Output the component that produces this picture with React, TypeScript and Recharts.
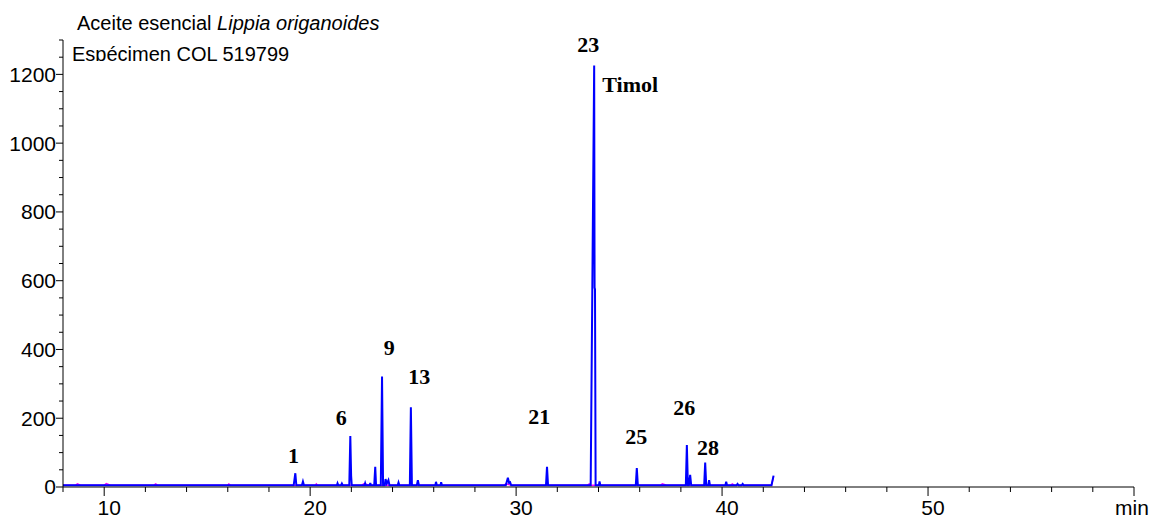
/** Chromatogram — Lippia origanoides essential oil, specimen COL 519799 */
import { ComposedChart, Line, Scatter, XAxis, YAxis } from 'recharts'

// retention time (min) / signal pairs
const blueTrace: [number, number][] = [
  [8.0, 5], [19.2, 5], [19.28, 40], [19.33, 5],
  [19.6, 5], [19.65, 16], [19.7, 5],
  [21.3, 5], [21.33, 11], [21.37, 5],
  [21.5, 5], [21.54, 10], [21.58, 5],
  [21.9, 5], [21.95, 148], [21.99, 32], [22.02, 5],
  [22.64, 5], [22.67, 11], [22.7, 5],
  [22.89, 5], [22.92, 12], [22.95, 5],
  [23.11, 5], [23.16, 59], [23.2, 5],
  [23.43, 5], [23.49, 321], [23.54, 5],
  [23.62, 5], [23.66, 23], [23.72, 10], [23.8, 20], [23.85, 5],
  [24.25, 5], [24.29, 13], [24.33, 5],
  [24.84, 5], [24.89, 232], [24.94, 5],
  [25.18, 5], [25.23, 20], [25.28, 5],
  [26.08, 5], [26.11, 15], [26.15, 5],
  [26.33, 5], [26.36, 14], [26.4, 5],
  [29.5, 5], [29.6, 27], [29.66, 12], [29.71, 14], [29.76, 5],
  [31.45, 5], [31.5, 59], [31.55, 5],
  [33.62, 5], [33.79, 1226], [33.81, 580], [33.83, 575], [33.86, 5],
  [34.02, 5], [34.05, 16], [34.09, 5],
  [35.81, 5], [35.86, 55], [35.91, 5],
  [38.24, 5], [38.29, 122], [38.34, 5],
  [38.39, 5], [38.45, 35], [38.5, 5],
  [39.13, 5], [39.18, 71], [39.23, 5],
  [39.33, 5], [39.37, 20], [39.41, 5],
  [40.16, 5], [40.2, 15], [40.24, 5],
  [40.7, 5], [40.75, 9], [40.8, 5],
  [40.95, 5], [41.0, 9], [41.05, 5],
  [42.4, 5], [42.5, 33],
]

const magentaTrace: [number, number][] = [
  [8.0, 5], [8.6, 5], [8.7, 9], [8.85, 5],
  [10.0, 5], [10.1, 10], [10.3, 5],
  [12.4, 5], [12.5, 9], [12.6, 5],
  [16.0, 5], [16.05, 9], [16.15, 5],
  [20.25, 5], [20.3, 9], [20.35, 5],
  [22.5, 5], [22.6, 9], [22.9, 5],
  [29.4, 5], [29.5, 9], [29.8, 5],
  [33.45, 5], [33.55, 9], [33.65, 5],
  [37.0, 5], [37.1, 9], [37.3, 5],
  [40.4, 5], [40.5, 9], [40.6, 5],
  [42.4, 5], [42.5, 30],
]

// peak numbers as printed on the chart: [label, time, signal level]
const peakLabels: [string, number, number][] = [
  ['1', 19.19, 93],
  ['6', 21.51, 201],
  ['9', 23.84, 405],
  ['13', 25.3, 320],
  ['21', 31.12, 204],
  ['23', 33.5, 1287],
  ['Timol', 35.54, 1171],
  ['25', 35.83, 146],
  ['26', 38.16, 230],
  ['28', 39.32, 114],
]

const xTicks = [8, 10, 12, 14, 16, 18, 20, 22, 24, 26, 28, 30, 32, 34, 36, 38, 40, 42, 44, 46, 48, 50, 52, 54, 56, 58, 60]
const yTicks = [0, 50, 100, 150, 200, 250, 300, 350, 400, 450, 500, 550, 600, 650, 700, 750, 800, 850, 900, 950, 1000, 1050, 1100, 1150, 1200, 1250, 1300]

const blueData = blueTrace.map(([t, v]) => ({ t, v }))
const magentaData = magentaTrace.map(([t, v]) => ({ t, v }))
const labelData = peakLabels.map(([name, t, v]) => ({ name, t, v }))

const SANS = '"Liberation Sans", Arial, sans-serif'
const SERIF = '"Liberation Serif", "Times New Roman", serif'

// eslint-disable-next-line @typescript-eslint/no-explicit-any
function XTick({ x, y, payload }: any) {
  const value = payload.value as number
  const major = value % 10 === 0
  const text = value === 60 ? 'min' : String(value)
  return (
    <g>
      <line x1={x} x2={x} y1={y} y2={y + (major ? 9 : 5)} stroke="#000" />
      {major && (
        <text x={value === 60 ? x - 2 : x + 5} y={y + 28} textAnchor="middle" fontSize={21} fontFamily={SANS} fill="#000">
          {text}
        </text>
      )}
    </g>
  )
}

// eslint-disable-next-line @typescript-eslint/no-explicit-any
function YTick({ x, y, payload }: any) {
  const value = payload.value as number
  const major = value % 200 === 0
  return (
    <g>
      <line x1={x - (major ? 7 : 4)} x2={x} y1={y} y2={y} stroke="#000" />
      {major && (
        <text x={x - 7} y={y} dy="0.35em" textAnchor="end" fontSize={21} fontFamily={SANS} fill="#000">
          {value}
        </text>
      )}
    </g>
  )
}

// eslint-disable-next-line @typescript-eslint/no-explicit-any
function PeakLabel({ cx, cy, payload }: any) {
  return (
    <text x={cx} y={cy} dy="0.34em" textAnchor="middle" fontSize={22} fontWeight={700} fontFamily={SERIF} fill="#000">
      {payload.name}
    </text>
  )
}

export default function App() {
  return (
    <div style={{ position: 'absolute', left: 0, top: 0, width: 1152, height: 518, background: '#fff' }}>
      <ComposedChart width={1152} height={518} margin={{ top: 40, right: 18, bottom: 1, left: 0 }}>
        <XAxis
          dataKey="t"
          type="number"
          domain={[8, 60]}
          ticks={xTicks}
          interval={0}
          tick={<XTick />}
          tickLine={false}
          tickSize={0}
          tickMargin={0}
          axisLine={{ stroke: '#000' }}
          height={30}
          allowDuplicatedCategory={false}
        />
        <YAxis
          type="number"
          domain={[0, 1300]}
          ticks={yTicks}
          interval={0}
          tick={<YTick />}
          tickLine={false}
          tickSize={0}
          tickMargin={0}
          axisLine={{ stroke: '#000' }}
          width={63}
        />
        <Line data={magentaData} dataKey="v" type="linear" stroke="#ff00ff" strokeWidth={1.5} dot={false} isAnimationActive={false} />
        <Line data={blueData} dataKey="v" type="linear" stroke="#0000ff" strokeWidth={2} dot={false} isAnimationActive={false} />
        <Scatter data={labelData} dataKey="v" shape={<PeakLabel />} isAnimationActive={false} />
      </ComposedChart>
      <div style={{ position: 'absolute', left: 77, top: 12, fontFamily: SANS, fontSize: 20, lineHeight: '23px', color: '#000', whiteSpace: 'nowrap' }}>
        Aceite esencial <i>Lippia origanoides</i>
      </div>
      <div style={{ position: 'absolute', left: 72, top: 40, height: 21, overflow: 'hidden', fontFamily: SANS, fontSize: 20, lineHeight: '23px', color: '#000', whiteSpace: 'nowrap' }}>
        <div style={{ paddingTop: 3 }}>Espécimen COL 519799</div>
      </div>
    </div>
  )
}
